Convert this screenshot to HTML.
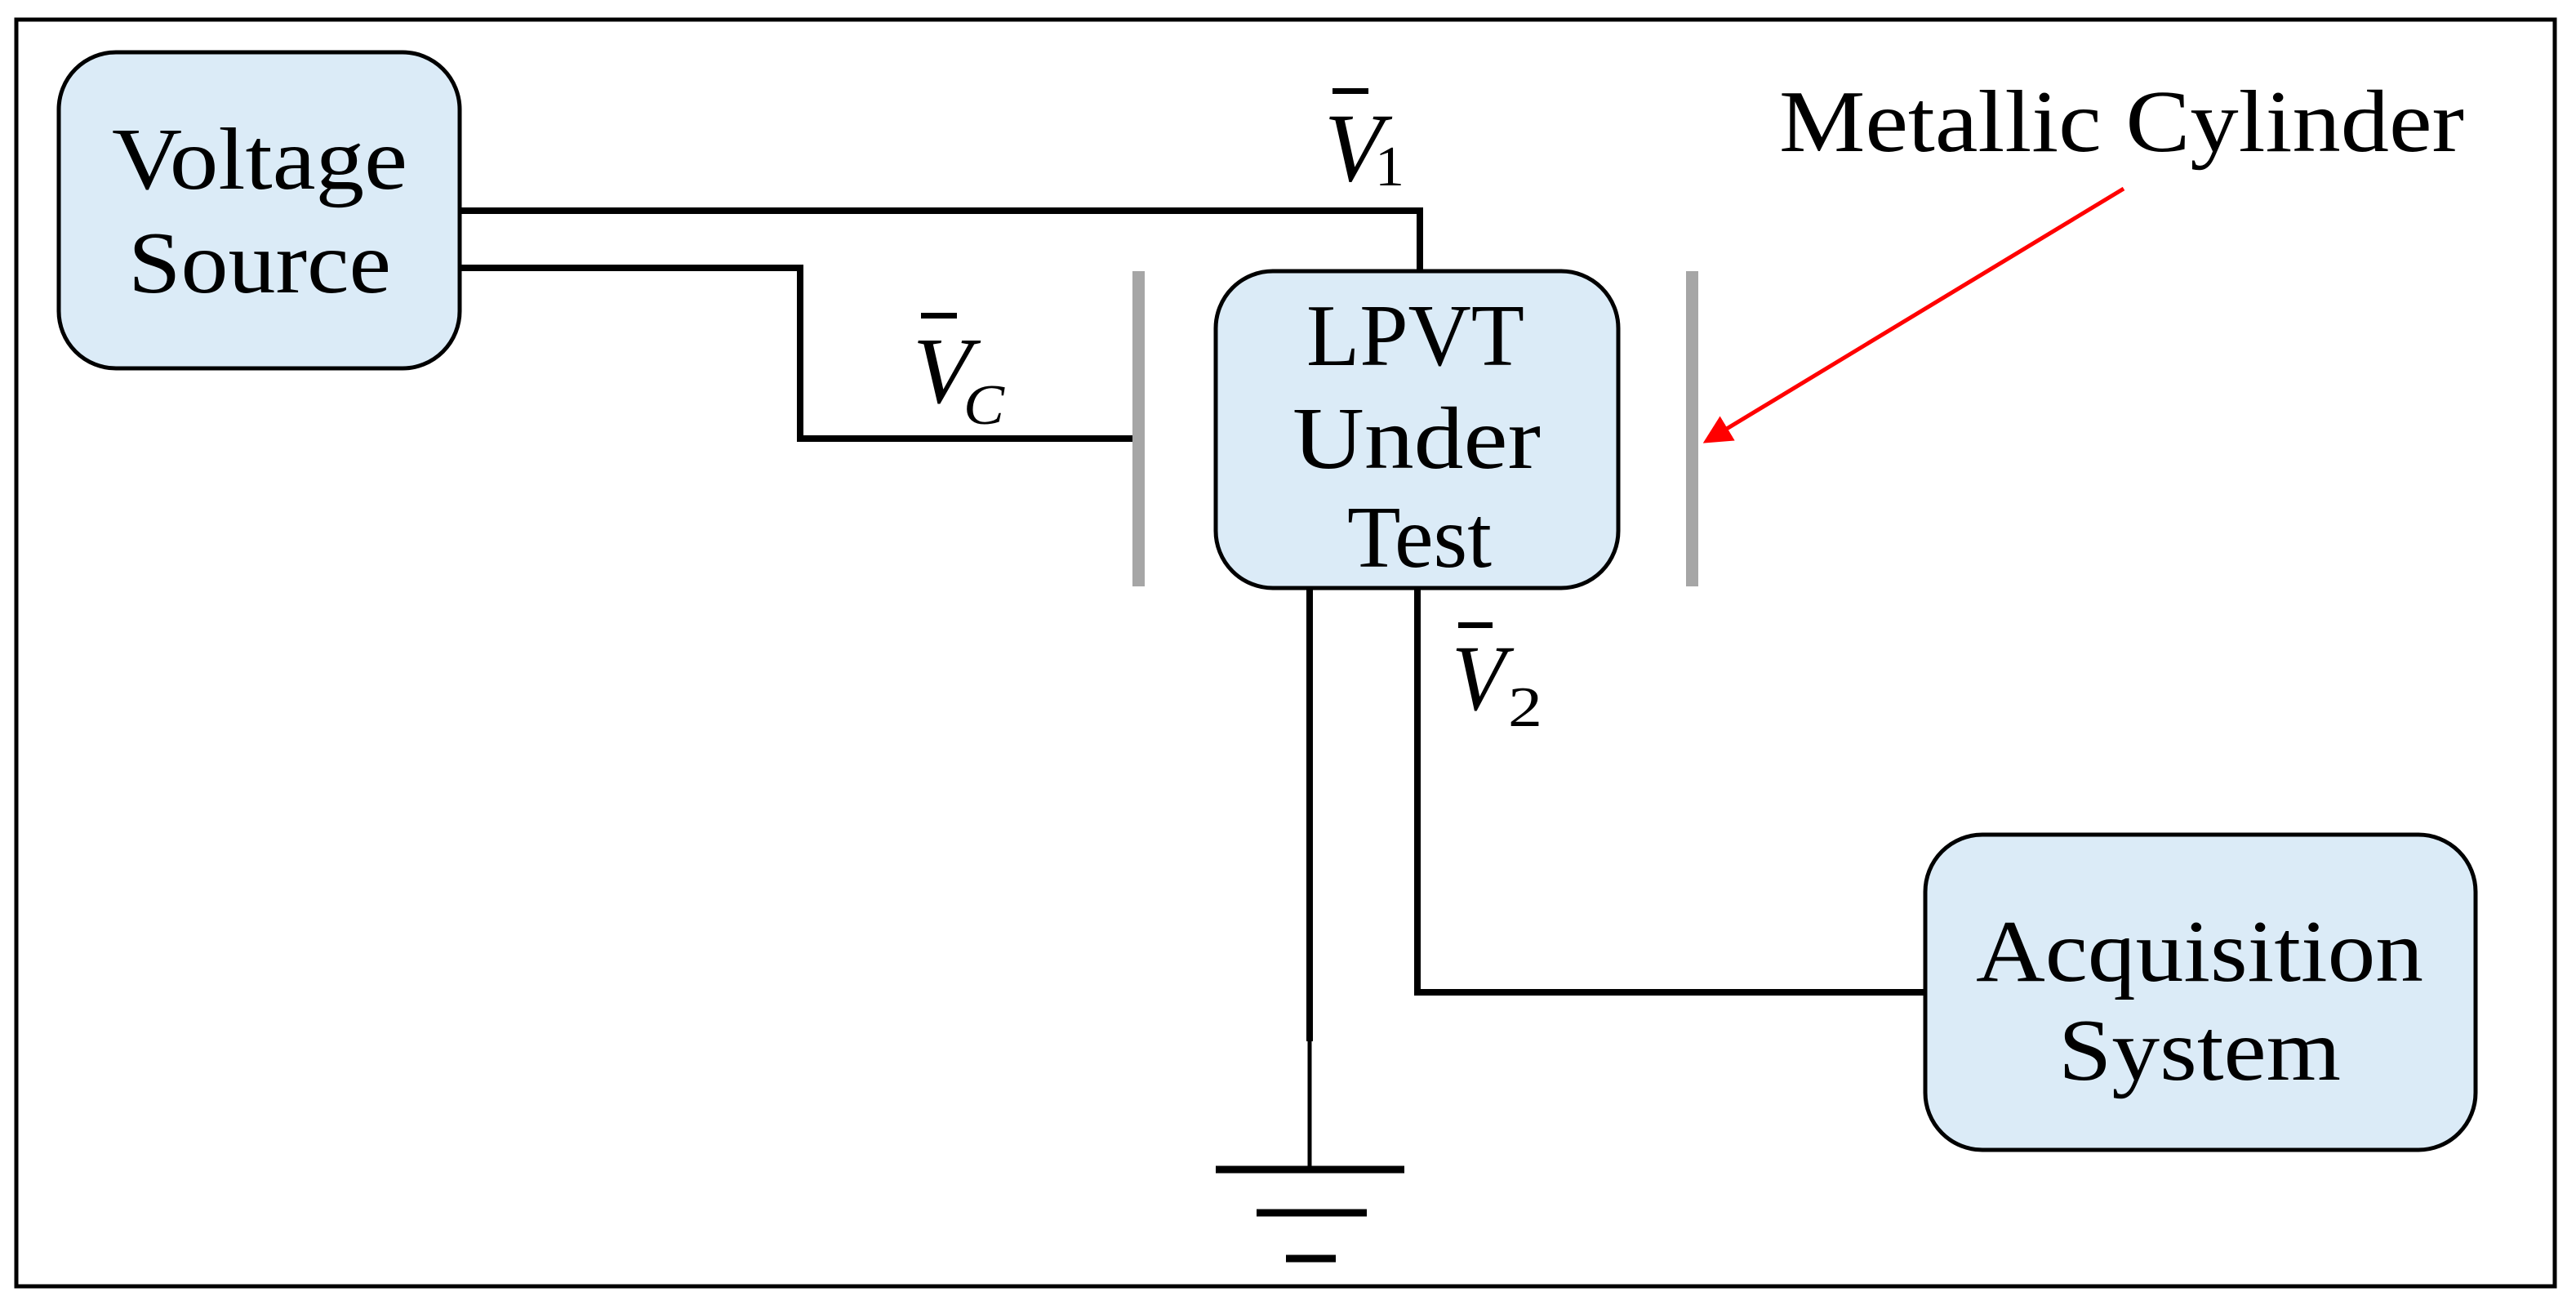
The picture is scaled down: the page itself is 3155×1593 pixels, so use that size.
<!DOCTYPE html>
<html><head><meta charset="utf-8"><style>html,body{margin:0;padding:0;background:#fff;}svg{display:block}</style></head>
<body>
<svg width="3155" height="1593" viewBox="0 0 3155 1593" xmlns="http://www.w3.org/2000/svg">
<rect x="0" y="0" width="3155" height="1593" fill="#fff"/>
<rect x="20" y="24" width="3109" height="1551" fill="none" stroke="#000" stroke-width="5"/>
<defs><marker id="ah" markerWidth="7" markerHeight="7" refX="6" refY="3.5" orient="auto" markerUnits="strokeWidth"><path d="M0,0 L7,3.5 L0,7 z" fill="#f00"/></marker></defs>
<g stroke="#000" stroke-width="8" fill="none">
<polyline points="563,258 1739,258 1739,332"/>
<polyline points="563,328 980,328 980,537 1394,537"/>
<polyline points="1736,720 1736,1215 2358,1215"/>
<line x1="1604" y1="720" x2="1604" y2="1275"/>
<line x1="1604" y1="1270" x2="1604" y2="1432" stroke-width="5"/>
<line x1="1489" y1="1432" x2="1720" y2="1432" stroke-width="9"/>
<line x1="1539" y1="1485" x2="1674" y2="1485" stroke-width="9"/>
<line x1="1575" y1="1541" x2="1636" y2="1541" stroke-width="9"/>
</g>
<rect x="1387" y="332" width="15" height="386" fill="#a6a6a6"/>
<rect x="2065" y="332" width="15" height="386" fill="#a6a6a6"/>
<g fill="#dbebf7" stroke="#000" stroke-width="5">
<rect x="72" y="64" width="491" height="387" rx="70"/>
<rect x="1489" y="332" width="493" height="388" rx="70"/>
<rect x="2358" y="1022" width="674" height="386" rx="70"/>
</g>
<g font-family="Liberation Serif, serif" font-size="108" fill="#000">
<text x="137" y="231" textLength="362" lengthAdjust="spacingAndGlyphs">Voltage</text>
<text x="157" y="358" textLength="322" lengthAdjust="spacingAndGlyphs">Source</text>
<text x="1600" y="447" textLength="267" lengthAdjust="spacingAndGlyphs">LPVT</text>
<text x="1583" y="573" textLength="304" lengthAdjust="spacingAndGlyphs">Under</text>
<text x="1650" y="694" textLength="177" lengthAdjust="spacingAndGlyphs">Test</text>
<text x="2420" y="1201" textLength="548" lengthAdjust="spacingAndGlyphs">Acquisition</text>
<text x="2521" y="1322" textLength="346" lengthAdjust="spacingAndGlyphs">System</text>
<text x="2179" y="185" textLength="839" lengthAdjust="spacingAndGlyphs">Metallic Cylinder</text>
</g>
<g font-family="Liberation Serif, serif" fill="#000">
<text x="1622" y="221" font-size="120" font-style="italic" textLength="72" lengthAdjust="spacingAndGlyphs">V</text>
<rect x="1632" y="108" width="44" height="7"/>
<text x="1684" y="227" font-size="70" textLength="36" lengthAdjust="spacingAndGlyphs">1</text>
<text x="1118" y="493" font-size="116" font-style="italic" textLength="72" lengthAdjust="spacingAndGlyphs">V</text>
<rect x="1128" y="383" width="44" height="7"/>
<text x="1180" y="519" font-size="70" font-style="italic" textLength="50" lengthAdjust="spacingAndGlyphs">C</text>
<text x="1778" y="869" font-size="114" font-style="italic" textLength="66" lengthAdjust="spacingAndGlyphs">V</text>
<rect x="1786" y="762" width="42" height="7"/>
<text x="1847" y="889" font-size="70" textLength="42" lengthAdjust="spacingAndGlyphs">2</text>
</g>
<line x1="2601" y1="231" x2="2090" y2="540" stroke="#f00" stroke-width="5" marker-end="url(#ah)"/>
</svg>
</body></html>
